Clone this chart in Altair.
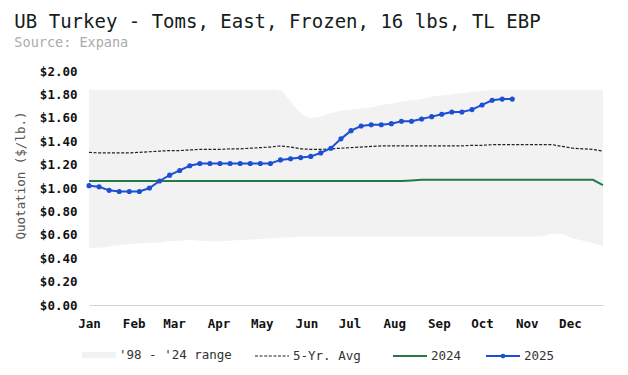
import altair as alt
import pandas as pd
from datetime import date, timedelta

FONT = "DejaVu Sans Mono"
BAND = "#f2f2f2"
AVG_C = "#222222"
GREEN = "#217a48"
BLUE = "#1c4fd1"

# weekly dates (2025 calendar)
weeks = [(date(2025, 1, 1) + timedelta(days=7 * i)).isoformat() for i in range(52)]

range_high = [1.84] * 19 + [1.83, 1.74, 1.64, 1.60, 1.61, 1.64, 1.66, 1.67, 1.68, 1.69,
                            1.71, 1.72, 1.74, 1.75, 1.76, 1.78, 1.79, 1.80, 1.81, 1.82,
                            1.83, 1.835] + [1.84] * 11
range_low = [0.49, 0.49, 0.50, 0.51, 0.52, 0.525, 0.53, 0.535, 0.545, 0.55, 0.555,
             0.55, 0.545, 0.545, 0.55, 0.555, 0.56, 0.565, 0.57, 0.575, 0.58] + \
            [0.585] * 24 + [0.59, 0.61, 0.605, 0.57, 0.55, 0.53, 0.50]
avg5 = [1.305, 1.30, 1.30, 1.30, 1.30, 1.305, 1.31, 1.315, 1.32, 1.32, 1.325, 1.33,
        1.33, 1.33, 1.335, 1.335, 1.34, 1.345, 1.35, 1.36, 1.35, 1.335, 1.33, 1.33,
        1.335, 1.34, 1.345, 1.35, 1.355, 1.36, 1.36, 1.36, 1.36, 1.36, 1.36, 1.36,
        1.36, 1.36, 1.365, 1.365, 1.37, 1.37, 1.37, 1.37, 1.37, 1.37, 1.37, 1.355,
        1.34, 1.335, 1.33, 1.315]
y2024 = [1.06] * 32 + [1.065] + [1.07] * 18 + [1.025]
y2025 = [1.02, 1.01, 0.98, 0.97, 0.97, 0.97, 1.00, 1.06, 1.11, 1.15, 1.19, 1.21,
         1.21, 1.21, 1.21, 1.21, 1.21, 1.21, 1.21, 1.24, 1.25, 1.26, 1.27, 1.30,
         1.34, 1.42, 1.49, 1.53, 1.54, 1.54, 1.55, 1.57, 1.57, 1.59, 1.61, 1.63,
         1.65, 1.65, 1.67, 1.71, 1.75, 1.76, 1.76]

y_ticks = [0.0, 0.2, 0.4, 0.6, 0.8, 1.0, 1.2, 1.4, 1.6, 1.8, 2.0]
month_ticks = [alt.DateTime(year=2025, month=m, date=1, utc=True) for m in range(1, 13)]

band_df = pd.DataFrame({"week": weeks, "high": range_high, "low": range_low,
                        "series": "'98 - '24 range"})
avg_df = pd.DataFrame({"week": weeks, "v": avg5, "series": "5-Yr. Avg"})
d24 = pd.DataFrame({"week": weeks, "v": y2024, "series": "2024"})
d25 = pd.DataFrame({"week": weeks[:len(y2025)], "v": y2025, "series": "2025"})

x_axis = alt.Axis(values=month_ticks, labelExpr="utcFormat(datum.value, '%b')", title=None,
                  labelFont=FONT, labelFontSize=12.5, labelFontWeight="bold",
                  labelColor="#111111", labelPadding=12, labelFlush=False,
                  labelOverlap=False, ticks=False, grid=False, domain=True,
                  domainColor="#d4d4d4", domainWidth=1)
x_scale = alt.Scale(type="utc", nice=False,
                    domain=[alt.DateTime(year=2025, month=1, date=1, utc=True),
                            alt.DateTime(year=2025, month=12, date=24, utc=True)])
y_axis = alt.Axis(values=y_ticks, format="$.2f", title="Quotation ($/lb.)",
                  labelFont=FONT, labelFontSize=12.5, labelFontWeight="bold",
                  labelColor="#111111", labelPadding=12, ticks=False, grid=False,
                  domain=False, titleFont=FONT, titleFontSize=12.5,
                  titleFontWeight="normal", titleColor="#555555", titlePadding=12,
                  titleY=104)
y_scale = alt.Scale(domain=[0, 2], nice=False)

X = alt.X("week:T", scale=x_scale, axis=x_axis)

common = dict(orient="none", title=None, labelFont=FONT, labelFontSize=12.5,
              labelColor="#333333", labelOffset=3, symbolSize=1156, padding=0,
              legendY=267)

band = alt.Chart(band_df).mark_area(interpolate="monotone", opacity=1).encode(
    x=X,
    y=alt.Y("high:Q", scale=y_scale, axis=y_axis),
    y2="low:Q",
    fill=alt.Fill("series:N", scale=alt.Scale(domain=["'98 - '24 range"], range=[BAND]),
                  legend=alt.Legend(legendX=-7, symbolType="M-1,-0.18H1V0.18H-1Z",
                                    symbolStrokeWidth=0, **common)),
)

avg = alt.Chart(avg_df).mark_line(color=AVG_C, strokeWidth=1.2).encode(
    x=X,
    y=alt.Y("v:Q", scale=y_scale, axis=y_axis),
    strokeDash=alt.StrokeDash("series:N",
                              scale=alt.Scale(domain=["5-Yr. Avg"], range=[[3, 1.6]]),
                              legend=alt.Legend(legendX=165, symbolType="stroke",
                                                symbolStrokeColor=AVG_C,
                                                symbolStrokeWidth=1.2, **common)),
)

l24 = alt.Chart(d24).mark_line(strokeWidth=2).encode(
    x=X,
    y=alt.Y("v:Q", scale=y_scale, axis=y_axis),
    stroke=alt.Stroke("series:N", scale=alt.Scale(domain=["2024"], range=[GREEN]),
                      legend=alt.Legend(legendX=303, symbolType="stroke",
                                        symbolStrokeWidth=2, **common)),
)

l25 = alt.Chart(d25).mark_line(strokeWidth=2,
                               point=alt.OverlayMarkDef(filled=True, size=26)).encode(
    x=X,
    y=alt.Y("v:Q", scale=y_scale, axis=y_axis),
    color=alt.Color("series:N", scale=alt.Scale(domain=["2025"], range=[BLUE]),
                    legend=alt.Legend(legendX=396,
                                      symbolType="M-1,0H1M0.08,0A0.08,0.08,0,1,1,-0.08,0A0.08,0.08,0,1,1,0.08,0Z",
                                      symbolStrokeWidth=2, symbolFillColor=BLUE,
                                      **common)),
)

chart = alt.layer(band, avg, l24, l25).properties(
    width=514, height=234,
    background="white",
    autosize=alt.AutoSizeParams(type="none"),
    padding={"left": 89, "top": 71, "right": 25, "bottom": 70},
    title=alt.Title("UB Turkey - Toms, East, Frozen, 16 lbs, TL EBP",
                    subtitle="Source: Expana", anchor="start", frame="bounds",
                    font=FONT, fontSize=19, fontWeight="normal", color="#14201a",
                    subtitleFont=FONT, subtitleFontSize=13.5, subtitleColor="#aaaaaa",
                    subtitlePadding=4, offset=16),
).configure_view(stroke=None)

chart.save("out.html", embed_options={"renderer": "svg", "actions": False})
